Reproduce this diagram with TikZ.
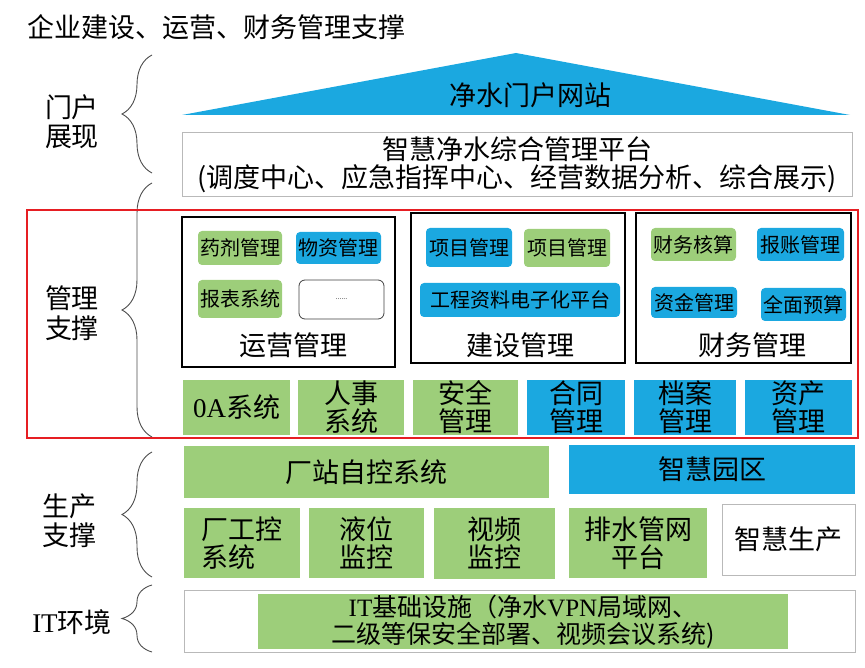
\documentclass[tikz,border=0pt]{standalone}
\usepackage{fontspec}
\setmainfont{Noto Sans CJK SC}
\newfontfamily\latf{Liberation Serif}
\usetikzlibrary{decorations.pathreplacing}
\definecolor{gfill}{RGB}{157,206,122}
\definecolor{bfill}{RGB}{27,168,224}
\definecolor{redline}{RGB}{230,30,35}
\newcommand\LgFont{\fontsize{27pt}{28pt}\selectfont}
\newcommand\SmFont{\fontsize{20pt}{22pt}\selectfont}
\tikzset{
  base/.style={inner sep=0pt, align=center, font=\LgFont},
  sitem/.style={base, rounded corners=4pt, font=\SmFont},
  gsm/.style={sitem, fill=gfill},
  bsm/.style={sitem, fill=bfill},
  gbig/.style={base, fill=gfill},
  bbig/.style={base, fill=bfill},
  catbox/.style={inner sep=0pt, draw=black, line width=1.2pt},
  wbox/.style={base, draw=gray!55, line width=1pt, fill=white},
  bracep/.style={draw=gray!60!black, line width=0.9pt, decorate, decoration={brace, amplitude=30pt}},
}
\begin{document}
\begin{tikzpicture}[x=1pt, y=-1pt]
\useasboundingbox (0,0) rectangle (865,668);

% title
\node[base, anchor=west] (title) at (27,27) {企业建设、运营、财务管理支撑};

% braces and side labels
\draw[bracep] (152,173) -- (152,55);
\draw[bracep] (152,437) -- (152,183);
\draw[bracep] (152,577) -- (152,452);
\draw[bracep] (152,652) -- (152,585);
\node[base, font=\fontsize{27pt}{29pt}\selectfont] (lbl1) at (72,122) {门户\\展现};
\node[base, font=\fontsize{27pt}{30pt}\selectfont] (lbl2) at (72,313) {管理\\支撑};
\node[base, font=\fontsize{27pt}{29pt}\selectfont] (lbl3) at (69,521) {生产\\支撑};
\node[base] (lbl4) at (72,622) {{\latf IT}环境};

% portal triangle
\fill[bfill] (182,115) -- (516,53) -- (850,115) -- cycle;
\node[base] (portal) at (530,95) {净水门户网站};

% platform
\node[wbox, minimum width=670pt, minimum height=64pt, font=\fontsize{27pt}{28pt}\selectfont] (platform) at (517,165)
  {智慧净水综合管理平台\\(调度中心、应急指挥中心、经营数据分析、综合展示)};

% management region
\node[inner sep=0pt, draw=redline, line width=1.5pt, minimum width=831pt, minimum height=228pt] (mgmt) at (442.5,324) {};

% operations
\node[catbox, minimum width=213pt, minimum height=150pt] (ops) at (288.5,292) {};
\node[gsm, minimum width=84pt, minimum height=34pt] (yaoji) at (240,248) {药剂管理};
\node[bsm, minimum width=85pt, minimum height=32pt] (wuzi) at (338.5,248) {物资管理};
\node[gsm, minimum width=84pt, minimum height=38pt] (baobiao) at (240,299) {报表系统};
\node[sitem, draw=black!75, line width=0.8pt, rounded corners=6pt, fill=white, font=\fontsize{7pt}{8pt}\selectfont, minimum width=85pt, minimum height=39pt] (dots) at (341.5,299.5) {......};
\node[base] (opslbl) at (293,345) {运营管理};

% construction
\node[catbox, minimum width=214pt, minimum height=150pt] (cons) at (518,288) {};
\node[bsm, minimum width=86pt, minimum height=39pt] (xm1) at (469,247.5) {项目管理};
\node[gsm, minimum width=86pt, minimum height=38pt] (xm2) at (567,248) {项目管理};
\node[bsm, minimum width=200pt, minimum height=34pt] (gcz) at (520,300) {工程资料电子化平台};
\node[base] (conslbl) at (520,345) {建设管理};

% finance
\node[catbox, minimum width=215pt, minimum height=150pt] (fin) at (743.5,288) {};
\node[gsm, minimum width=85pt, minimum height=33pt] (hesuan) at (693.5,244.5) {财务核算};
\node[bsm, minimum width=87pt, minimum height=33pt] (baozhang) at (800.5,244.5) {报账管理};
\node[bsm, minimum width=86pt, minimum height=31pt] (zijin) at (694,302.5) {资金管理};
\node[bsm, minimum width=85pt, minimum height=33pt] (yusuan) at (803.5,304.5) {全面预算};
\node[base] (finlbl) at (752,345) {财务管理};

% bottom row of management
\node[gbig, minimum width=107pt, minimum height=55pt] (oa) at (236.5,407.5) {{\latf 0A}系统};
\node[gbig, minimum width=106pt, minimum height=55pt] (renshi) at (351,407.5) {人事\\系统};
\node[gbig, minimum width=105pt, minimum height=55pt] (anquan) at (465.5,407.5) {安全\\管理};
\node[bbig, minimum width=98pt, minimum height=55pt] (hetong) at (576,407.5) {合同\\管理};
\node[bbig, minimum width=102pt, minimum height=55pt] (dangan) at (685,407.5) {档案\\管理};
\node[bbig, minimum width=107pt, minimum height=55pt] (zichan) at (798.5,407.5) {资产\\管理};

% production support
\node[gbig, minimum width=365pt, minimum height=52pt] (zikong) at (366.5,472) {厂站自控系统};
\node[bbig, minimum width=286pt, minimum height=49pt] (yuanqu) at (712,469.5) {智慧园区};
\node[gbig, minimum width=116pt, minimum height=70pt, align=left] (gongkong) at (242,543) {厂工控\\系统};
\node[gbig, minimum width=115pt, minimum height=70pt] (yewei) at (366.5,543) {液位\\监控};
\node[gbig, minimum width=121pt, minimum height=71pt] (shipin) at (494.5,543.5) {视频\\监控};
\node[gbig, minimum width=138pt, minimum height=70pt] (paishui) at (638,543) {排水管网\\平台};
\node[wbox, minimum width=133pt, minimum height=71pt] (shengchan) at (788.5,539.5) {智慧生产};

% IT environment
\node[wbox, minimum width=671pt, minimum height=62pt] (itbox) at (519.5,621) {};
\node[gbig, minimum width=530pt, minimum height=55pt, font=\fontsize{25pt}{27pt}\selectfont] (itinfra) at (523,621.5)
  {{\latf IT}基础设施（净水{\latf VPN}局域网、\\二级等保安全部署、视频会议系统)};
\end{tikzpicture}
\end{document}
